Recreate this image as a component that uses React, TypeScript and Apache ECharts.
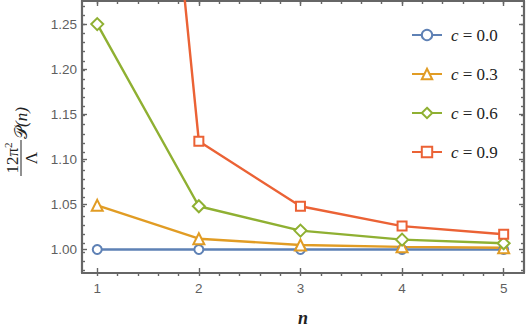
import React, { useEffect, useRef } from "react";
import * as echarts from "echarts";

const nValues = [1, 2, 3, 4, 5];
const seriesNames = ["c = 0.0", "c = 0.3", "c = 0.6", "c = 0.9"];
const c00 = [1.0, 1.0, 1.0, 1.0, 1.0];
const c03 = [1.049, 1.012, 1.005, 1.003, 1.002];
const c06 = [1.25, 1.048, 1.021, 1.011, 1.007];
const c09 = [2.25, 1.12, 1.048, 1.026, 1.017];
const xMajorTicks = [1, 2, 3, 4, 5];
const yMajorTicks = [1.0, 1.05, 1.1, 1.15, 1.2, 1.25];

const colors = ["#5E81B5", "#E19C24", "#8FB032", "#EB6235"];
const symbols = ["emptyCircle", "emptyTriangle", "emptyDiamond", "emptyRect"];
const symbolSizes = [9, 11, 12, 9];

const X_MIN = 0.85;
const X_MAX = 5.2;
const Y_MIN = 0.974;
const Y_MAX = 1.2756;

function range(a: number, b: number, step: number): number[] {
  const out: number[] = [];
  const n = Math.round((b - a) / step);
  for (let i = 0; i <= n; i++) out.push(Math.round((a + i * step) * 1000) / 1000);
  return out;
}
const xMinorTicks = range(0.2, 5.2, 0.2).filter((v) => v > X_MIN && v < X_MAX);
const yMinorTicks = range(0.97, 1.28, 0.01).filter((v) => v > Y_MIN && v < Y_MAX);

const FRAME = "#666666";
const LABEL = "#5f5f5f";

export default function App() {
  const ref = useRef<HTMLDivElement>(null);
  useEffect(() => {
    if (!ref.current) return;
    const chart = echarts.init(ref.current, null, { renderer: "svg" });
    const gridRect = { left: 82, right: 2, top: 1, bottom: 56 };
    const frameLine = { show: true, lineStyle: { color: FRAME, width: 2.2 } };
    const tickStyle = { color: FRAME, width: 1.4 };
    const mkX = (grid: number, pos: string, major: boolean, labels: boolean) => ({
      type: "value",
      gridIndex: grid,
      position: pos,
      min: X_MIN,
      max: X_MAX,
      axisLine: major ? frameLine : { show: false },
      axisTick: {
        show: true,
        inside: true,
        length: major ? 5 : 3,
        customValues: major ? xMajorTicks : xMinorTicks,
        lineStyle: tickStyle,
      },
      axisLabel: labels
        ? {
            show: true,
            customValues: xMajorTicks,
            color: LABEL,
            fontSize: 13.5,
            fontFamily: "Liberation Sans, Arial, sans-serif",
            margin: 8,
            formatter: (v: number) => String(Math.round(v)),
          }
        : { show: false },
      splitLine: { show: false },
      ...(labels
        ? {
            name: "n",
            nameLocation: "middle",
            nameGap: 36,
            nameTextStyle: {
              fontFamily: "Liberation Serif, DejaVu Serif, serif",
              fontStyle: "italic",
              fontWeight: "bold",
              fontSize: 18,
              color: "#222",
            },
          }
        : {}),
    });
    const mkY = (grid: number, pos: string, major: boolean, labels: boolean) => ({
      type: "value",
      gridIndex: grid,
      position: pos,
      min: Y_MIN,
      max: Y_MAX,
      axisLine: major ? frameLine : { show: false },
      axisTick: {
        show: true,
        inside: true,
        length: major ? 5 : 3,
        customValues: major ? yMajorTicks : yMinorTicks,
        lineStyle: tickStyle,
      },
      axisLabel: labels
        ? {
            show: true,
            customValues: yMajorTicks,
            color: LABEL,
            fontSize: 13.5,
            fontFamily: "Liberation Sans, Arial, sans-serif",
            margin: 5,
            formatter: (v: number) => v.toFixed(2),
          }
        : { show: false },
      splitLine: { show: false },
    });

    const allData = [c00, c03, c06, c09];
    const option: any = {
      animation: false,
      grid: [gridRect, gridRect],
      xAxis: [
        mkX(0, "bottom", true, true),
        mkX(0, "top", true, false),
        mkX(1, "bottom", false, false),
        mkX(1, "top", false, false),
      ],
      yAxis: [
        mkY(0, "left", true, true),
        mkY(0, "right", true, false),
        mkY(1, "left", false, false),
        mkY(1, "right", false, false),
      ],
      legend: {
        orient: "vertical",
        left: 411,
        top: 26,
        padding: 0,
        itemWidth: 30,
        itemHeight: 13,
        itemGap: 21,
        data: seriesNames,
        formatter: (name: string) => "{i|c}" + name.slice(1),
        textStyle: {
          fontFamily: "Liberation Serif, DejaVu Serif, serif",
          fontSize: 17,
          lineHeight: 18,
          color: "#222",
          padding: [0, 0, 0, 4],
          rich: {
            i: {
              fontFamily: "Liberation Serif, DejaVu Serif, serif",
              fontStyle: "italic",
              fontSize: 17,
              lineHeight: 18,
              color: "#222",
            },
          },
        },
      },
      series: allData.map((d, i) => ({
        name: seriesNames[i],
        type: "line",
        xAxisIndex: 0,
        yAxisIndex: 0,
        data: d.map((v, j) => [nValues[j], v]),
        symbol: symbols[i],
        symbolSize: symbolSizes[i],
        showAllSymbol: true,
        clip: true,
        color: colors[i],
        lineStyle: { color: colors[i], width: 2.4 },
        itemStyle: { color: colors[i], borderColor: colors[i], borderWidth: 2.2 },
      })),
      graphic: [
        {
          type: "group",
          x: 21,
          y: 158,
          rotation: Math.PI / 2,
          children: [
            {
              type: "text",
              x: 0,
              y: -9,
              style: {
                text: "12π{s|2}",
                fontFamily: "Liberation Serif, DejaVu Serif, serif",
                fontSize: 17,
                fill: "#222",
                align: "center",
                verticalAlign: "middle",
                rich: {
                  s: {
                    fontSize: 11,
                    fontFamily: "Liberation Serif, DejaVu Serif, serif",
                    verticalAlign: "top",
                    padding: [0, 0, 8, 0],
                  },
                },
              },
            },
            {
              type: "line",
              shape: { x1: -18, y1: 0, x2: 18, y2: 0 },
              style: { stroke: "#222", lineWidth: 1 },
            },
            {
              type: "text",
              x: 0,
              y: 10,
              style: {
                text: "Λ",
                fontFamily: "Liberation Serif, DejaVu Serif, serif",
                fontSize: 17,
                fill: "#222",
                align: "center",
                verticalAlign: "middle",
              },
            },
            {
              type: "text",
              x: 19,
              y: 0,
              style: {
                text: "{p|𝒫}(n)",
                fontFamily: "Liberation Serif, DejaVu Serif, serif",
                fontSize: 17,
                fontStyle: "italic",
                fill: "#222",
                align: "left",
                verticalAlign: "middle",
                rich: {
                  p: {
                    fontFamily: "DejaVu Sans, Noto Sans, serif",
                    fontSize: 17,
                    fontStyle: "normal",
                  },
                },
              },
            },
          ],
        },
      ],
    };
    chart.setOption(option);
    return () => chart.dispose();
  }, []);
  return <div ref={ref} style={{ width: 526, height: 332, position: "absolute", left: 0, top: 0, background: "#fff" }} />;
}
